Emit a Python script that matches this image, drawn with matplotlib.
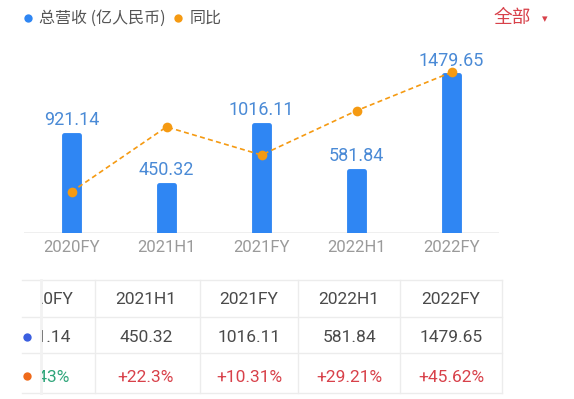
import matplotlib
matplotlib.use("Agg")
import matplotlib.pyplot as plt
from matplotlib.lines import Line2D
from matplotlib.patches import Rectangle

plt.rcParams['font.family'] = ['Roboto', 'Noto Sans CJK SC', 'DejaVu Sans']

categories = ["2020FY", "2021H1", "2021FY", "2022H1", "2022FY"]
revenue = [921.14, 450.32, 1016.11, 581.84, 1479.65]
yoy = [-5.43, 22.3, 10.31, 29.21, 45.62]
yoy_labels = ["-5.43%", "+22.3%", "+10.31%", "+29.21%", "+45.62%"]
legend_labels = ["总营收 (亿人民币)", "同比"]

W, H = 574, 399
fig = plt.figure(figsize=(W / 100, H / 100), dpi=100)
fig.patch.set_facecolor("white")

def fx(x):
    return x / W

def fy(y):
    return 1 - y / H

BLUE = "#2f86f3"
ORANGE = "#f59a12"
LABEL_BLUE = "#4a8ad6"
RED = "#d8414a"
GREEN = "#2fa57a"
GRAY = "#9a9a9a"
DARK = "#4a4a4a"
LINE = "#ececec"
CJK = ['Noto Sans CJK SC', 'DejaVu Sans']

ax_left, ax_right, ax_top, ax_bottom = 24, 499, 40, 232.7
ax = fig.add_axes([fx(ax_left), fy(ax_bottom), fx(ax_right - ax_left), (ax_bottom - ax_top) / H])
x = list(range(len(categories)))
bars = ax.bar(x, revenue, width=0.165, color=BLUE, edgecolor=BLUE, linewidth=3.5,
              joinstyle="round", zorder=2)
ax.set_xlim(-0.5, 4.5)
ax.set_ylim(0, 1479.65 * (ax_bottom - ax_top) / 157.5)
for xi, v in zip(x, revenue):
    ax.annotate(f"{v:.2f}", (xi, v), xytext=(0, 4), textcoords="offset points",
                ha="center", va="bottom", color=LABEL_BLUE, fontsize=13, zorder=4)
ax.axhline(0, color=LINE, lw=1.2, zorder=1)
for s in ax.spines.values():
    s.set_visible(False)
ax.set_yticks([])
ax.set_xticks(x)
ax.set_xticklabels(categories, color=GRAY, fontsize=12)
ax.tick_params(axis="x", length=0, pad=5)

ax2 = ax.twinx()
ax2.set_ylim(-22.87, 59.4)
ax2.plot(x, yoy, color=ORANGE, lw=1.2, ls=(0, (3, 2)), marker="o", ms=7,
         markeredgewidth=0, zorder=3)
ax2.axis("off")

# legend
fig.add_artist(Line2D([fx(28)], [fy(18)], marker="o", color=BLUE, ms=6, mew=0))
fig.text(fx(39), fy(18), legend_labels[0], fontsize=11.5, color="#555555", va="center", family=CJK)
fig.add_artist(Line2D([fx(178)], [fy(18)], marker="o", color=ORANGE, ms=6, mew=0))
fig.text(fx(190), fy(18), legend_labels[1], fontsize=11.5, color="#555555", va="center", family=CJK)
fig.text(fx(494), fy(18), "全部", fontsize=13.5, color=RED, va="center", family=CJK)
fig.text(fx(542), fy(19), "▾", fontsize=8, color=RED, va="center",
         family=["DejaVu Sans"])

# table
hl = [280, 317, 353, 393]
vl = [95, 200, 298, 400, 502]
for y in hl:
    fig.add_artist(Line2D([fx(22), fx(502)], [fy(y), fy(y)], color=LINE, lw=1))
for xv in vl:
    fig.add_artist(Line2D([fx(xv), fx(xv)], [fy(280), fy(393)], color=LINE, lw=1))
fig.add_artist(Line2D([fx(41), fx(41)], [fy(280), fy(393)], color="#f2f2f2", lw=2))

col_x = [44, 146, 249, 349, 451]
row_y = [300, 338, 377]
clip = Rectangle((fx(42), 0), fx(60), 1, transform=fig.transFigure, visible=False)
fig.add_artist(clip)
for i, (cx, cat, v, lab, g) in enumerate(zip(col_x, categories, revenue, yoy_labels, yoy)):
    t1 = fig.text(fx(cx), fy(row_y[0]), cat, ha="center", va="center", fontsize=12.5, color=DARK)
    t2 = fig.text(fx(cx), fy(row_y[1]), f"{v:.2f}", ha="center", va="center", fontsize=12.5, color=DARK)
    t3 = fig.text(fx(cx), fy(row_y[2]), lab, ha="center", va="center", fontsize=12.5,
                  color=GREEN if g < 0 else RED)
    if i == 0:
        for t in (t1, t2, t3):
            t.set_clip_path(clip)
fig.add_artist(Line2D([fx(27)], [fy(337)], marker="o", color="#3b5fe0", ms=6, mew=0))
fig.add_artist(Line2D([fx(27)], [fy(376)], marker="o", color="#ef6a1a", ms=6, mew=0))

fig.savefig("out.png", dpi=100, facecolor="white")
